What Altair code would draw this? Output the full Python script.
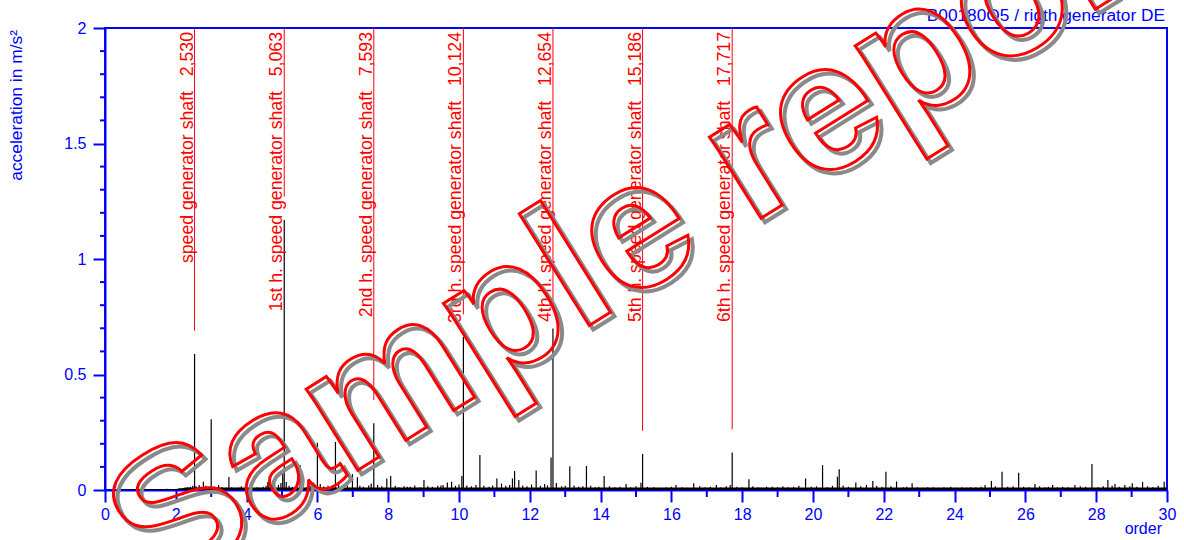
import altair as alt
import pandas as pd

BLUE = "#0000ff"
RED = "#ff0000"
FONT = "Liberation Sans"

# Order spectrum: distinct peaks (order, acceleration in m/s²)
peaks = [
    (2.53, 0.589), (2.78, 0.036), (3.00, 0.306), (3.21, 0.022), (3.50, 0.056),
    (4.47, 0.014), (4.60, 0.035), (5.02, 0.079), (5.063, 1.169), (5.51, 0.108),
    (6.00, 0.205), (6.51, 0.208), (6.99, 0.069), (7.13, 0.055), (7.593, 0.289),
    (7.96, 0.050), (8.07, 0.061), (8.54, 0.014), (9.01, 0.043), (9.49, 0.020),
    (9.67, 0.032), (9.79, 0.036), (10.08, 0.061), (10.124, 0.662), (10.59, 0.152),
    (11.07, 0.050), (11.51, 0.050), (11.57, 0.082), (11.69, 0.043), (12.18, 0.084),
    (12.60, 0.141), (12.654, 0.699), (13.13, 0.103), (13.60, 0.104), (14.10, 0.061),
    (15.14, 0.031), (15.186, 0.156), (16.13, 0.022), (16.63, 0.029), (17.27, 0.022),
    (17.66, 0.022), (17.717, 0.162), (18.19, 0.047), (18.69, 0.014), (19.79, 0.050),
    (20.27, 0.108), (20.69, 0.058), (20.74, 0.090), (21.21, 0.032), (21.51, 0.022),
    (21.69, 0.039), (22.06, 0.079), (22.36, 0.037), (22.80, 0.029), (23.24, 0.012),
    (23.89, 0.014), (24.60, 0.012), (24.86, 0.022), (25.04, 0.039), (25.34, 0.079),
    (25.81, 0.075), (26.27, 0.026), (26.77, 0.022), (27.40, 0.022), (27.88, 0.113),
    (28.33, 0.043), (28.53, 0.026), (28.81, 0.022), (29.02, 0.029), (29.31, 0.035),
    (29.92, 0.036),
]

# Low-level lines between the peaks
grass = [
    (0.45, 0.003), (0.70, 0.003), (1.15, 0.004), (1.40, 0.004), (1.75, 0.005),
    (2.10, 0.008), (2.25, 0.010), (2.33, 0.012), (2.41, 0.014), (2.48, 0.018),
    (2.57, 0.016), (2.66, 0.022), (2.72, 0.014), (2.85, 0.018), (2.93, 0.012),
    (3.08, 0.015), (3.14, 0.011), (3.30, 0.013), (3.42, 0.010), (3.58, 0.012),
    (3.66, 0.009), (3.77, 0.011), (3.85, 0.016), (3.97, 0.010), (4.08, 0.013),
    (4.20, 0.009), (4.30, 0.012), (4.38, 0.010), (4.55, 0.018), (4.63, 0.034),
    (4.72, 0.014), (4.90, 0.022), (4.97, 0.030), (5.12, 0.035), (5.20, 0.018),
    (5.30, 0.014), (5.42, 0.020), (5.60, 0.016), (5.70, 0.012), (5.80, 0.018),
    (5.92, 0.022), (6.08, 0.026), (6.18, 0.015), (6.30, 0.018), (6.42, 0.020),
    (6.60, 0.024), (6.72, 0.016), (6.85, 0.020), (7.20, 0.018), (7.30, 0.014),
    (7.45, 0.020), (7.52, 0.028), (7.70, 0.022), (7.82, 0.016), (8.20, 0.018),
    (8.30, 0.012), (8.45, 0.016), (8.62, 0.014), (8.75, 0.020), (8.90, 0.012),
    (9.12, 0.016), (9.25, 0.014), (9.40, 0.018), (9.55, 0.022), (9.90, 0.018),
    (10.00, 0.024), (10.22, 0.020), (10.35, 0.016), (10.48, 0.022), (10.70, 0.018),
    (10.85, 0.014), (10.95, 0.020), (11.20, 0.028), (11.32, 0.018), (11.43, 0.022),
    (11.80, 0.020), (11.92, 0.016), (12.05, 0.024), (12.30, 0.018), (12.42, 0.026),
    (12.50, 0.020), (12.75, 0.030), (12.90, 0.016), (13.00, 0.018), (13.25, 0.020),
    (13.38, 0.014), (13.50, 0.016), (13.72, 0.018), (13.85, 0.012), (13.95, 0.014),
    (14.25, 0.016), (14.40, 0.012), (14.55, 0.014), (14.72, 0.026), (14.85, 0.012),
    (15.00, 0.016), (15.32, 0.014), (15.50, 0.012), (15.70, 0.010), (15.85, 0.012),
    (16.00, 0.014), (16.30, 0.012), (16.45, 0.010), (16.80, 0.016), (16.95, 0.012),
    (17.10, 0.014), (17.40, 0.012), (17.55, 0.016), (17.85, 0.014), (18.00, 0.012),
    (18.30, 0.016), (18.45, 0.012), (18.55, 0.010), (18.85, 0.014), (19.00, 0.012),
    (19.15, 0.016), (19.30, 0.012), (19.45, 0.014), (19.60, 0.018), (19.95, 0.014),
    (20.10, 0.016), (20.40, 0.012), (20.55, 0.018), (20.85, 0.020), (21.00, 0.014),
    (21.35, 0.016), (21.80, 0.018), (21.95, 0.014), (22.20, 0.016), (22.55, 0.012),
    (22.65, 0.014), (22.95, 0.012), (23.10, 0.010), (23.40, 0.012), (23.55, 0.010),
    (23.70, 0.012), (24.05, 0.010), (24.20, 0.012), (24.35, 0.010), (24.45, 0.012),
    (24.75, 0.014), (25.15, 0.016), (25.50, 0.014), (25.65, 0.016), (25.95, 0.014),
    (26.10, 0.012), (26.40, 0.016), (26.55, 0.012), (26.65, 0.014), (26.90, 0.012),
    (27.05, 0.014), (27.20, 0.012), (27.55, 0.016), (27.70, 0.014), (28.05, 0.012),
    (28.20, 0.016), (28.45, 0.018), (28.65, 0.014), (28.95, 0.016), (29.15, 0.014),
    (29.45, 0.016), (29.60, 0.012), (29.75, 0.018),
]

# Noise floor of the spectrum
floor_order = [0.3, 2.0, 2.3, 30.0]
floor_accel = [0.003, 0.004, 0.011, 0.011]

# Speed generator shaft and its harmonics
ann_order = [2.530, 5.063, 7.593, 10.124, 12.654, 15.186, 17.717]
ann_end = [0.69, 1.27, 0.39, 0.76, 0.80, 0.256, 0.262]
ann_name = [
    "speed generator shaft",
    "1st h. speed generator shaft",
    "2nd h. speed generator shaft",
    "3rd h. speed generator shaft",
    "4th h. speed generator shaft",
    "5th h. speed generator shaft",
    "6th h. speed generator shaft",
]
ann_value = ["2,530", "5,063", "7,593", "10,124", "12,654", "15,186", "17,717"]

x_major = list(range(0, 31, 2))
x_minor = list(range(1, 30, 2))
y_major = [0, 0.5, 1, 1.5, 2]
y_minor = [0.1, 0.2, 0.3, 0.4, 0.6, 0.7, 0.8, 0.9, 1.1, 1.2, 1.3, 1.4,
           1.6, 1.7, 1.8, 1.9]

W, H = 1062, 462

peaks_df = pd.DataFrame(peaks, columns=["order", "accel"])
grass_df = pd.DataFrame(grass, columns=["order", "accel"])
floor_df = pd.DataFrame({"order": floor_order, "accel": floor_accel})
ann_df = pd.DataFrame({
    "order": ann_order,
    "end": ann_end,
    "label": [n + "\u00a0\u00a0\u00a0" + v for n, v in zip(ann_name, ann_value)],
})

xs = alt.Scale(domain=[0, 30], nice=False, zero=False)
ys = alt.Scale(domain=[0, 2], nice=False)

xaxis = alt.Axis(
    values=x_major, title=None, grid=False, tickSize=12, tickWidth=2,
    tickColor=BLUE, domainColor=BLUE, domainWidth=2, labelColor=BLUE,
    labelFont=FONT, labelFontSize=16, labelPadding=4, labelFlush=False,
    labelOverlap=False, labelExpr="'' + datum.value",
)
yaxis = alt.Axis(
    values=y_major, title=None, grid=False, tickSize=12, tickWidth=2,
    tickColor=BLUE, domainColor=BLUE, domainWidth=2, labelColor=BLUE,
    labelFont=FONT, labelFontSize=16, labelPadding=7, labelFlush=False,
    labelOverlap=False, labelExpr="'' + datum.value",
)


def X(field):
    return alt.X(field, type="quantitative", scale=xs, axis=xaxis)


def Y(field):
    return alt.Y(field, type="quantitative", scale=ys, axis=yaxis)


floor = alt.Chart(floor_df).mark_area(color="black").encode(
    x=X("order"), y=Y("accel"), y2=alt.datum(0)
)
grass_lines = alt.Chart(grass_df).mark_rule(color="black", strokeWidth=1.2).encode(
    x=X("order"), y=Y("accel"), y2=alt.datum(0)
)
peak_lines = alt.Chart(peaks_df).mark_rule(color="black", strokeWidth=1.2).encode(
    x=X("order"), y=Y("accel"), y2=alt.datum(0)
)

minor_x = alt.Chart(pd.DataFrame({"order": x_minor})).mark_rule(
    color=BLUE, strokeWidth=2
).encode(x=X("order"), y=alt.value(H), y2=alt.value(H + 7))
minor_y = alt.Chart(pd.DataFrame({"accel": y_minor})).mark_rule(
    color=BLUE, strokeWidth=2
).encode(y=Y("accel"), x=alt.value(0), x2=alt.value(-5))

ann_rules = alt.Chart(ann_df).mark_rule(color=RED, strokeWidth=1).encode(
    x=X("order"), y=Y("end"), y2=alt.datum(2)
)
ann_text = alt.Chart(ann_df).mark_text(
    color=RED, font=FONT, fontSize=17.7, angle=270, align="right",
    baseline="alphabetic", dx=-4, dy=-2,
).encode(x=X("order"), y=alt.value(0), text="label:N")

one = pd.DataFrame({"t": [""]})
y_title = alt.Chart(one).mark_text(
    text="acceleration in m/s²", color=BLUE, font=FONT, fontSize=17.4,
    angle=270, align="right", baseline="middle",
).encode(x=alt.value(-88), y=alt.value(2))
x_title = alt.Chart(one).mark_text(
    text="order", color=BLUE, font=FONT, fontSize=16, align="right",
    baseline="middle",
).encode(x=alt.value(1057), y=alt.value(501))
channel = alt.Chart(one).mark_text(
    text="B00180O5 / rigth generator DE", color=BLUE, font=FONT, fontSize=17.3,
    align="right", baseline="middle",
).encode(x=alt.value(1060), y=alt.value(-12))

# Watermark: outlined lettering with a grey drop shadow
STAMP_X, STAMP_Y = 543, 196
stamp_shadow = alt.Chart(one).mark_text(
    text="Sample report", font=FONT, fontWeight="bold", fontSize=182,
    angle=328, align="center", baseline="middle", fillOpacity=0,
    stroke="#8a8a8a", strokeWidth=4,
).encode(x=alt.value(STAMP_X + 4), y=alt.value(STAMP_Y + 4))
stamp = alt.Chart(one).mark_text(
    text="Sample report", font=FONT, fontWeight="bold", fontSize=182,
    angle=328, align="center", baseline="middle", fillOpacity=0,
    stroke=RED, strokeWidth=3,
).encode(x=alt.value(STAMP_X), y=alt.value(STAMP_Y))

chart = alt.layer(
    floor, grass_lines, peak_lines, minor_x, minor_y, ann_rules, ann_text,
    y_title, x_title, channel, stamp_shadow, stamp,
).properties(
    width=W, height=H,
    padding={"left": 105, "top": 28, "right": 17, "bottom": 50},
    autosize=alt.AutoSizeParams(type="none"),
    background="white",
).configure_view(stroke=BLUE, strokeWidth=2)

chart.save("out.html", embed_options={"renderer": "svg", "actions": False})
